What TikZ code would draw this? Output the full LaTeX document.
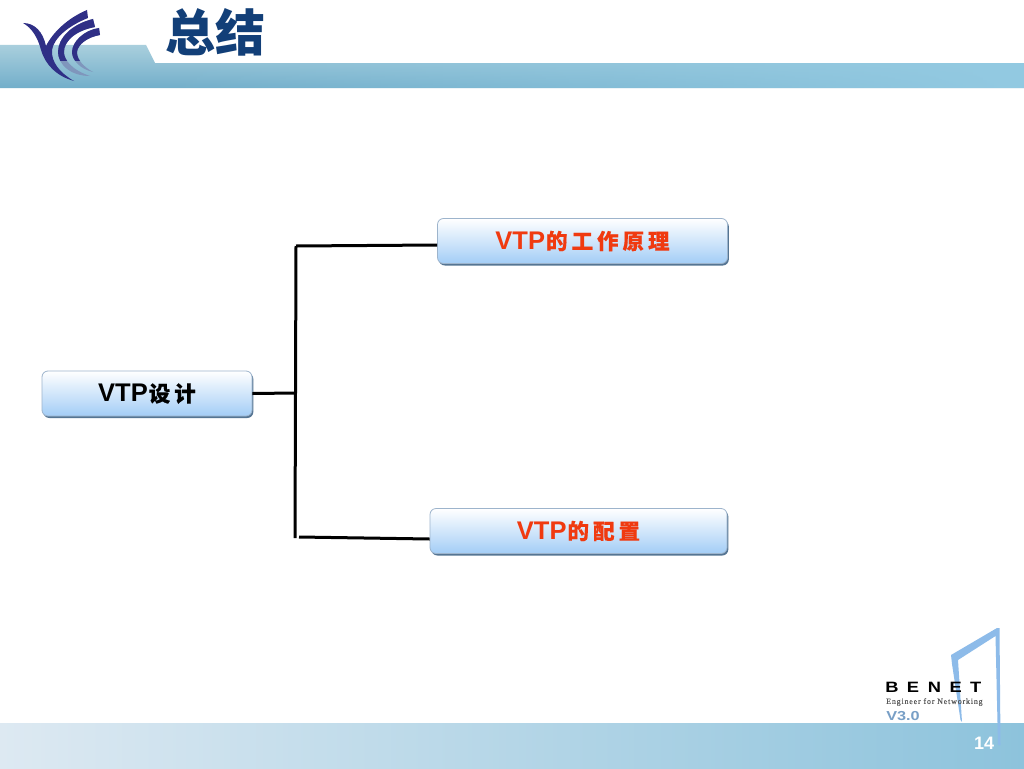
\documentclass[tikz,border=0pt]{standalone}
\usepackage{fontspec}
\setmainfont{Liberation Sans}
\newfontfamily\cjk{Noto Sans CJK SC}
\newfontfamily\cjkfake[FakeBold=0.4]{Noto Sans CJK SC}
\newfontfamily\tagfont[LetterSpace=10,FakeBold=0.4]{Liberation Serif}
\newfontfamily\benetfont[FakeBold=0.6]{Liberation Sans Bold}
\usetikzlibrary{shadows,calc,fadings}
\definecolor{bandtop}{HTML}{A9CFDD}
\definecolor{bandbot}{HTML}{72AECA}
\definecolor{bandright}{HTML}{93CAE2}
\definecolor{footleft}{HTML}{DDE9F2}
\definecolor{footright}{HTML}{8DC3DC}
\definecolor{titleblue}{HTML}{123F78}
\definecolor{logoblue}{HTML}{2F2F86}
\definecolor{logofade}{HTML}{7F96BC}
\definecolor{boxedge}{HTML}{9DB4CC}
\definecolor{boxshadow}{HTML}{557593}
\definecolor{boxbot}{HTML}{A3CDF6}
\definecolor{accent}{HTML}{F03A10}
\definecolor{benetblue}{HTML}{8DBBE9}
\newcommand{\cjkgap}[1]{{\cjkfake\fontsize{21.5}{26}\selectfont #1}}
\newcommand{\gp}{\hspace{4pt}}
\newcommand{\arcTwo}{(93,19) -- (95,27) .. controls (74,31) and (64,42) .. (64,52) .. controls (64,60) and (72,70) .. (90,76) .. controls (70,76) and (58,64) .. (58,52) .. controls (58,38) and (72,24) .. (93,19) -- cycle}
\newcommand{\arcThree}{(99,28) -- (100,35) .. controls (88,37) and (78,44) .. (77,52) .. controls (77,60) and (84,67) .. (93,72) .. controls (80,69) and (72,60) .. (72,52) .. controls (72,42) and (84,30) .. (99,28) -- cycle}
\tikzset{
  topicbox/.style={draw=boxedge,line width=0.8pt,rounded corners=6pt,top color=white,bottom color=boxbot,
    inner sep=0pt,minimum height=45pt,font=\bfseries\fontsize{25.5}{26}\selectfont,
    drop shadow={shadow xshift=1.3pt,shadow yshift=-2pt,fill=boxshadow,opacity=1}},
  conn/.style={line width=3pt,black,line cap=butt},
  logostroke/.style={fill=logoblue,draw=none},
  logotail/.style={fill=logofade,draw=none},
  benetmark/.style={fill=benetblue,draw=none},
}
\begin{document}
\begin{tikzpicture}[x=1pt,y=-1pt]
\useasboundingbox (0,0) rectangle (1024,768);
\fill[white] (0,0) rectangle (1024,768);
% header band
\shade[top color=bandtop,bottom color=bandbot] (0,45) -- (146,45) -- (155,63) -- (1024,63) -- (1024,88) -- (0,88) -- cycle;
\fill[bandright,path fading=west] (155,63) rectangle (1024,88);
% footer band
\shade[left color=footleft,right color=footright] (0,723) rectangle (1024,768);
% logo
\fill[logotail] \arcTwo;
\fill[logotail] \arcThree;
\begin{scope}
\clip (0,0) rectangle (110,60);
\fill[logostroke] \arcTwo;
\fill[logostroke] \arcThree;
\end{scope}
\fill[logostroke] (23,23) .. controls (35,23) and (43,32) .. (46,46) .. controls (53,32) and (68,18) .. (87,10) -- (88,18) .. controls (68,26) and (54,38) .. (52,50) .. controls (51,62) and (60,73) .. (74,81) .. controls (56,76) and (45,64) .. (41,50) .. controls (38,38) and (32,28) .. (23,23) -- cycle;
% title
\node[font=\cjk\bfseries\fontsize{50}{54}\selectfont,text=titleblue,inner sep=0pt] (title) at (215,32) {总结};
% topic boxes
\node[topicbox,minimum width=210pt] (root) at (147,393.5) {VTP\cjkgap{\hspace{1pt}设\gp 计}};
\node[topicbox,minimum width=290pt,text=accent] (topA) at (582.5,241) {VTP\cjkgap{\hspace{1pt}的\gp 工\gp 作\gp 原\gp 理}};
\node[topicbox,minimum width=297pt,text=accent] (topB) at (578.5,531) {VTP\cjkgap{\hspace{1pt}的\gp 配\gp 置}};
% connectors
\coordinate (trunkT) at (296,246);
\coordinate (trunkM) at (295.5,393);
\coordinate (trunkB) at (295,538);
\coordinate (leafB) at (299,537);
\draw[conn] (trunkT) -- (trunkB);
\draw[conn] (trunkT) -- (topA.west |- 0,245);
\draw[conn] (root.east) -- (trunkM);
\draw[conn] (leafB) -- (topB.west |- 0,539);
% BENET mark
\fill[benetmark] (951,655) -- (997,628) -- (999.5,628) -- (1000.5,745) -- (998,745) -- (995.5,636) -- (958,660) -- (962,722) -- (960.5,720) -- (952,664) -- cycle;
\node[font=\bfseries\fontsize{15}{16}\selectfont,inner sep=0pt,anchor=west,xscale=1.22,transform shape] (benet) at (885,687) {B\hspace{7pt}E\hspace{7pt}N\hspace{7pt}E\hspace{7pt}T};
\node[font=\tagfont\fontsize{8}{9}\selectfont,text=black!65,inner sep=0pt,anchor=west] (tag) at (886,702) {Engineer for Networking};
\node[font=\bfseries\fontsize{13}{14}\selectfont,text=benetblue!85!black,inner sep=0pt,anchor=west,xscale=1.25,transform shape] (ver) at (886,716) {V3.0};
\node[font=\bfseries\fontsize{18}{20}\selectfont,text=white,inner sep=0pt] (page) at (984,743) {14};
\end{tikzpicture}
\end{document}
